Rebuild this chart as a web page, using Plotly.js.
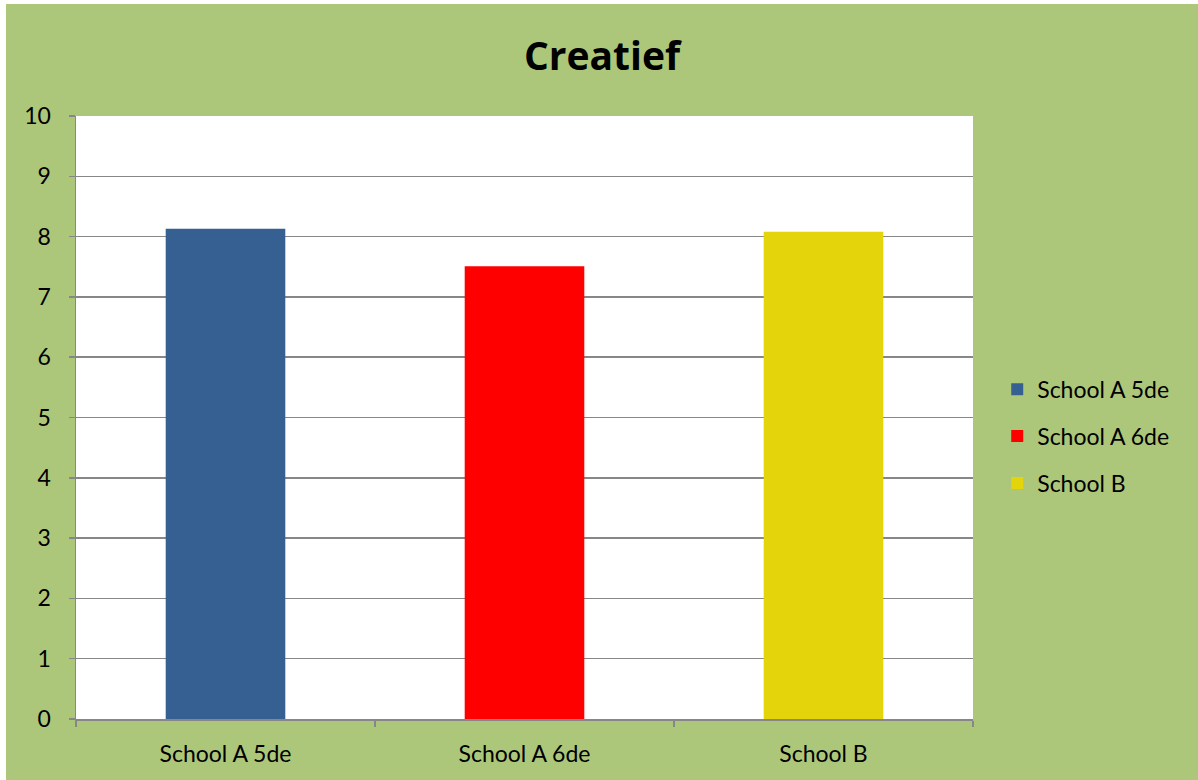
<!DOCTYPE html>
<html>
<head>
<meta charset="utf-8">
<script src="https://cdn.plot.ly/plotly-3.0.1.min.js"></script>
<style>
  html, body { margin: 0; padding: 0; background: #ffffff; }
  #chart { position: absolute; left: 6px; top: 4px; width: 1192px; height: 776px; }
</style>
</head>
<body>
<div id="chart"></div>
<script>
const categories = ["School A 5de", "School A 6de", "School B"];
const values = [8.13, 7.51, 8.08];
const seriesNames = ["School A 5de", "School A 6de", "School B"];
const colors = ["#366092", "#FF0000", "#E3D40B"];
const yTicks = [0, 1, 2, 3, 4, 5, 6, 7, 8, 9, 10];

const traces = categories.map((c, i) => ({
  type: "bar",
  x: [c],
  y: [values[i]],
  name: seriesNames[i],
  legendgroup: "g" + i,
  marker: { color: colors[i], line: { width: 0 } },
  width: 0.4,
  hoverinfo: "x+y"
}));

const layout = {
  width: 1192,
  height: 776,
  paper_bgcolor: "#ADC77A",
  plot_bgcolor: "#FFFFFF",
  font: { family: "Lato, 'Open Sans', sans-serif", color: "#000000", size: 23 },
  margin: { l: 70, r: 225, t: 112, b: 61, pad: 0 },
  title: {
    text: "<b>Creatief</b>",
    font: { family: "'Open Sans', Lato, sans-serif", size: 39, color: "#000000" },
    x: 0.5, xanchor: "center",
    y: 1 - 52 / 776, yanchor: "middle"
  },
  barmode: "overlay",
  showlegend: true,
  legend: {
    x: 1.027, xanchor: "left",
    y: 0.469, yanchor: "middle",
    traceorder: "grouped",
    tracegroupgap: 14,
    font: { size: 23, family: "Lato, 'Open Sans', sans-serif" },
    itemwidth: 30,
    bgcolor: "rgba(0,0,0,0)"
  },
  xaxis: {
    type: "category",
    categoryorder: "array",
    categoryarray: categories,
    range: [-0.5, 2.5],
    showline: true,
    linecolor: "#878787",
    linewidth: 1.5,
    ticks: "outside",
    tickson: "boundaries",
    ticklen: 6,
    tickcolor: "#878787",
    tickwidth: 1.5,
    ticklabelstandoff: 14,
    showgrid: false,
    zeroline: false,
    tickfont: { size: 23 }
  },
  yaxis: {
    range: [0, 10],
    tickvals: yTicks,
    ticktext: yTicks.map(String),
    showline: true,
    linecolor: "#878787",
    linewidth: 1.5,
    ticks: "outside",
    ticklen: 6,
    tickcolor: "#878787",
    tickwidth: 1.5,
    ticklabelstandoff: 13,
    showgrid: true,
    gridcolor: "#878787",
    gridwidth: 1.5,
    zeroline: false,
    tickfont: { size: 23 }
  }
};

Plotly.newPlot("chart", traces, layout, { displayModeBar: false, staticPlot: true });
</script>
</body>
</html>
